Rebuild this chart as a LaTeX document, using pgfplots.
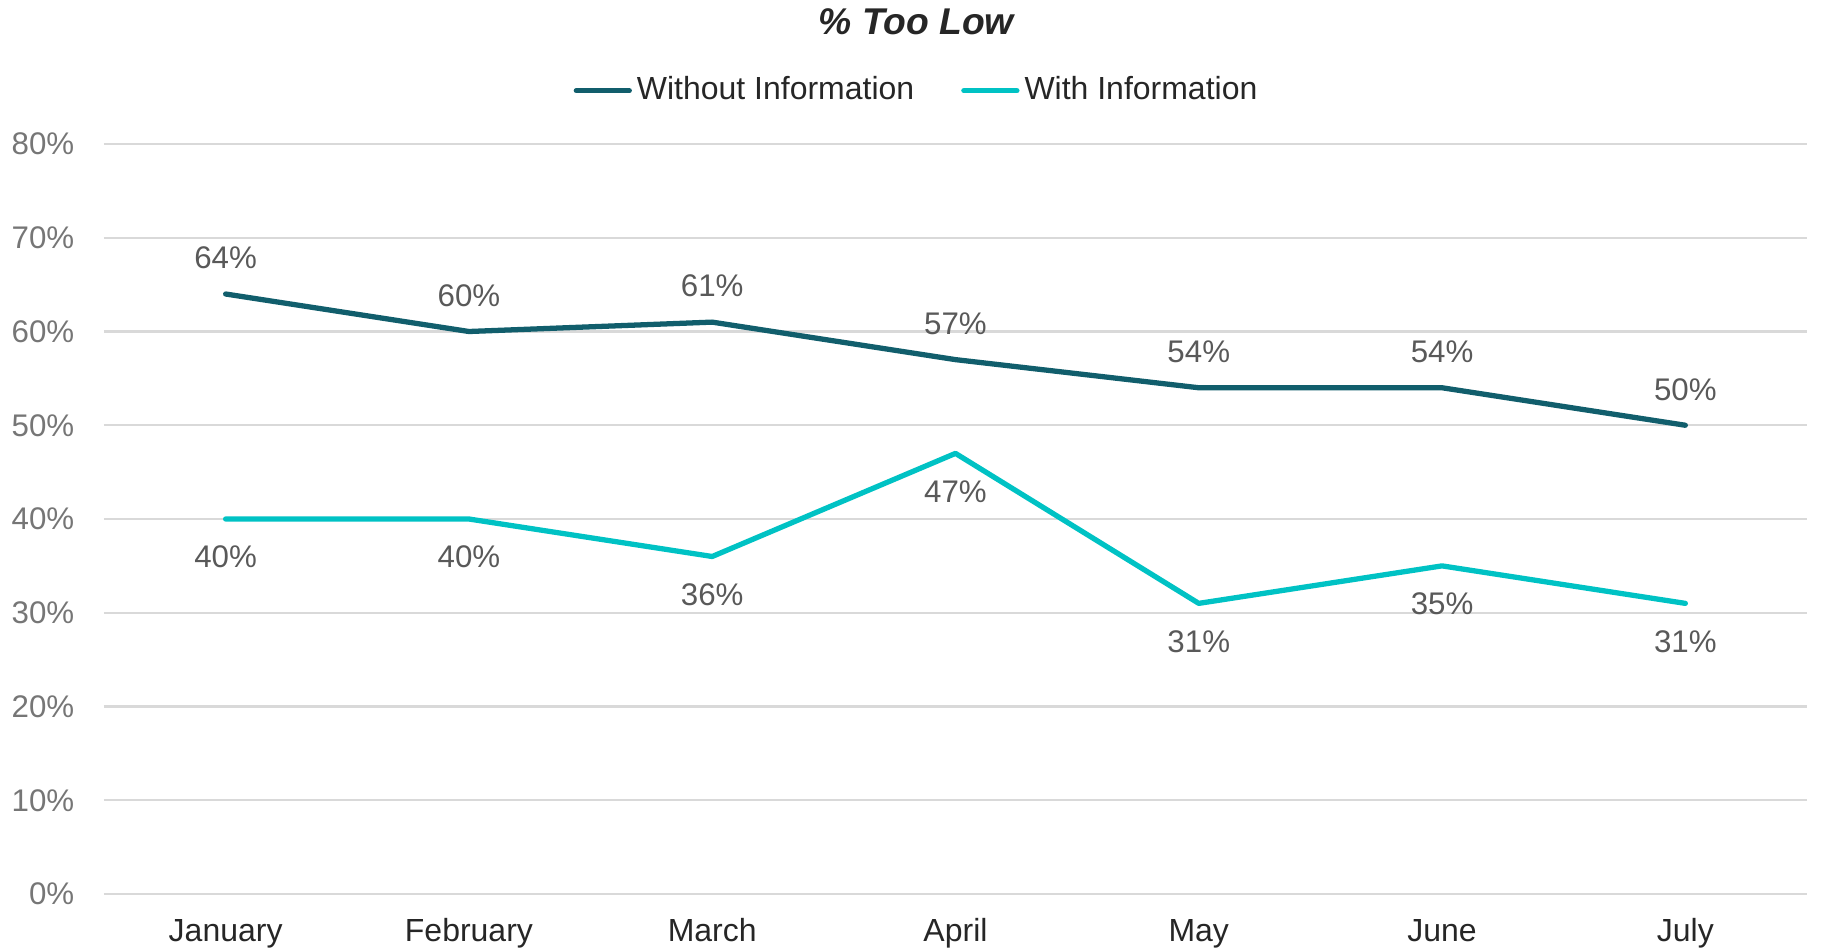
\documentclass[border=0pt]{standalone}
\usepackage{fontspec}
\setmainfont{Liberation Sans}
\usepackage{pgfplots}
\pgfplotsset{compat=1.18}
\definecolor{darkteal}{RGB}{17,94,108}
\definecolor{brightteal}{RGB}{0,194,196}
\definecolor{gridgray}{RGB}{217,217,217}
\definecolor{ticktext}{RGB}{118,118,118}
\definecolor{labeltext}{RGB}{89,89,89}
\definecolor{darktext}{RGB}{38,38,38}
\newcommand{\chartfont}{\fontsize{8.9}{10}\selectfont}

\begin{document}
\begin{tikzpicture}
% fixed page size, same proportions as the reference
\path[use as bounding box] (-1.04cm,-0.56cm) rectangle (17.17cm,8.94cm);
\begin{axis}[
    scale only axis,
    width=17.03cm, height=7.5cm,
    xmin=-0.5, xmax=6.5, ymin=0, ymax=80,
    xtick={0,...,6},
    xticklabels={January,February,March,April,May,June,July},
    ytick={0,10,...,80},
    yticklabel={\pgfmathprintnumber{\tick}\%},
    /pgf/number format/assume math mode=true,
    ymajorgrids, grid style={line width=0.6pt, gridgray},
    axis line style={draw=none},
    major tick length=0pt,
    y tick label style={font=\chartfont, ticktext, anchor=east, inner sep=0pt, xshift=-0.29cm},
    x tick label style={font=\fontsize{9.1}{10}\selectfont, darktext, anchor=base, inner sep=0pt, yshift=-0.48cm},
    legend style={at={(0.478,1.071)}, anchor=center, draw=none, fill=none,
        font=\fontsize{9.1}{10}\selectfont, text=darktext,
        legend columns=2, inner sep=0pt,
        nodes={inner xsep=0.5mm},
        /tikz/every even column/.append style={column sep=0.42cm}},
    legend cell align=left,
    legend image code/.code={\draw[#1] (0cm,0cm) -- (0.53cm,0cm);},
    clip=false,
    nodes near coords={\pgfmathprintnumber{\pgfplotspointmeta}\%},
    every node near coord/.append style={font=\chartfont, labeltext, anchor=center},
]
\addplot[darkteal, line width=1.5pt, line join=round, line cap=round,
    every node near coord/.append style={yshift=0.36cm}]
    coordinates {(0,64) (1,60) (2,61) (3,57) (4,54) (5,54) (6,50)};
\addlegendentry{Without Information}
\addplot[brightteal, line width=1.5pt, line join=round, line cap=round,
    every node near coord/.append style={yshift=-0.38cm}]
    coordinates {(0,40) (1,40) (2,36) (3,47) (4,31) (5,35) (6,31)};
\addlegendentry{With Information}
\node[font=\fontsize{10.6}{12}\selectfont\bfseries\itshape, darktext]
    at (rel axis cs:0.477,1.163) {\% Too Low};
\end{axis}
\end{tikzpicture}
\end{document}
